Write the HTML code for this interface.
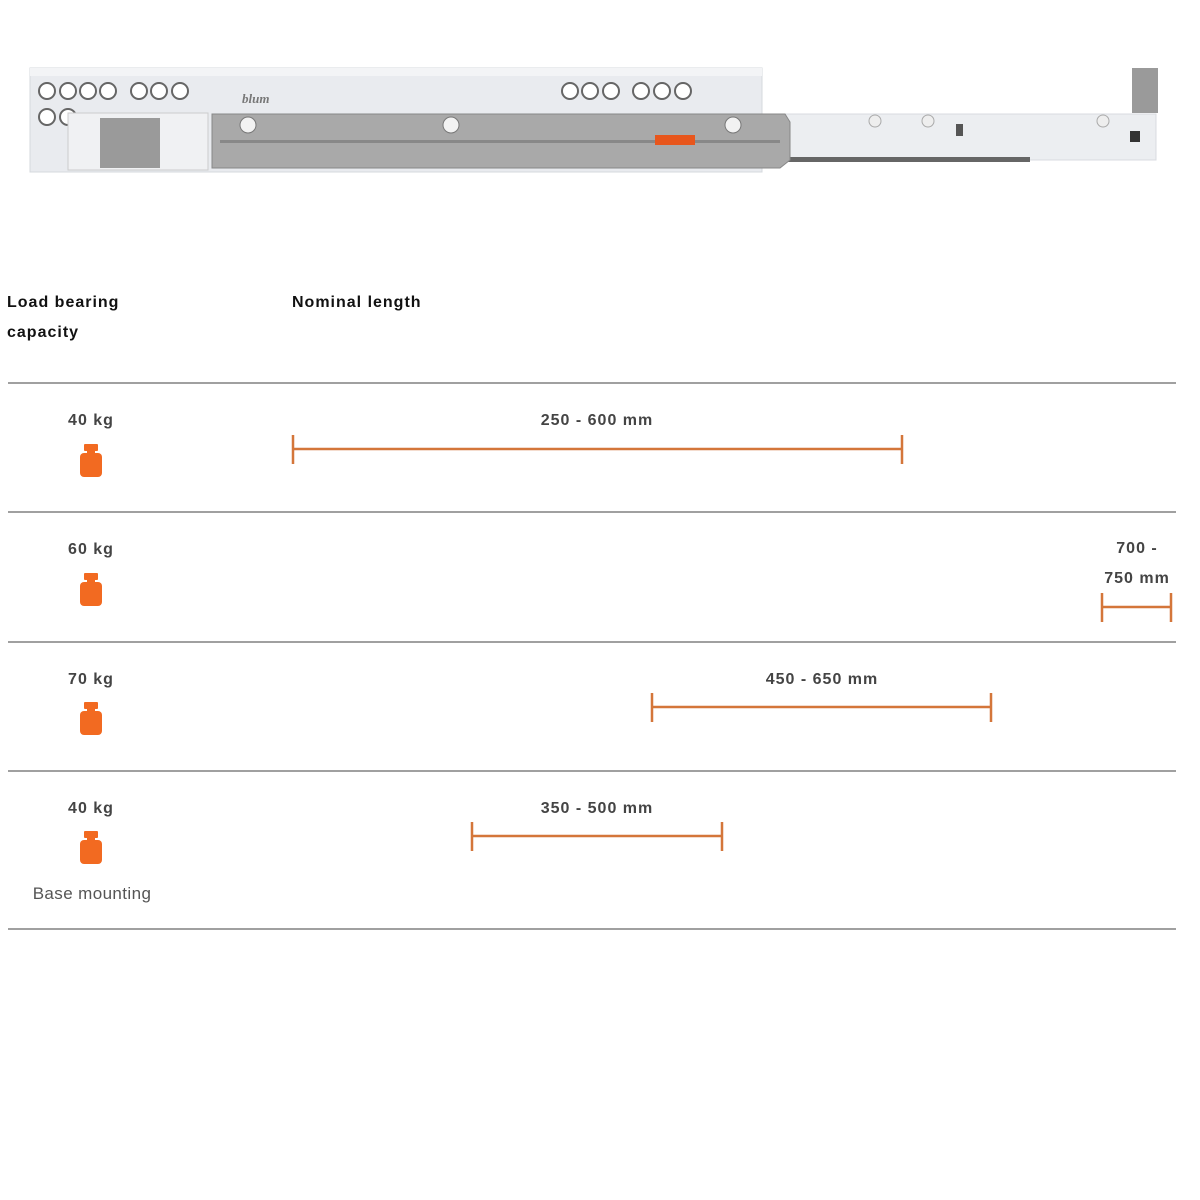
<!DOCTYPE html>
<html><head><meta charset="utf-8"><style>
body{margin:0;background:#fff;width:1200px;height:1200px;position:relative;overflow:hidden;font-family:"Liberation Sans",Arial,sans-serif}
.t{position:absolute;font-weight:bold;font-size:16px;color:#444;white-space:nowrap;letter-spacing:1px}
.h{color:#111;font-size:16px;line-height:30px}
.c{transform:translateX(-50%);text-align:center}
.hr{position:absolute;left:8px;width:1168px;height:2px;background:#a0a0a0}
</style></head><body>
<svg width="1200" height="1200" style="position:absolute;left:0;top:0">
<rect x="30" y="68" width="732" height="104" fill="#e9ebef" stroke="#d5d8dd"/>
<rect x="30" y="68" width="732" height="8" fill="#f3f4f6"/>
<rect x="762" y="114" width="394" height="46" fill="#eceef1" stroke="#d8dbe0"/>
<rect x="760" y="157" width="270" height="5" fill="#666"/>
<g fill="#fff" stroke="#666" stroke-width="2">
<circle cx="47" cy="91" r="8"/><circle cx="68" cy="91" r="8"/><circle cx="88" cy="91" r="8"/><circle cx="108" cy="91" r="8"/>
<circle cx="139" cy="91" r="8"/><circle cx="159" cy="91" r="8"/><circle cx="180" cy="91" r="8"/>
<circle cx="570" cy="91" r="8"/><circle cx="590" cy="91" r="8"/><circle cx="611" cy="91" r="8"/>
<circle cx="641" cy="91" r="8"/><circle cx="662" cy="91" r="8"/><circle cx="683" cy="91" r="8"/>
<circle cx="47" cy="117" r="8"/><circle cx="68" cy="117" r="8"/>
</g>
<rect x="68" y="113" width="140" height="57" fill="#f0f1f3" stroke="#ccc"/>
<rect x="100" y="118" width="60" height="50" fill="#9a9a9a"/>
<path d="M212 114 H785 L790 122 V160 L780 168 H212 Z" fill="#a9a9a9" stroke="#888"/>
<rect x="220" y="140" width="560" height="3" fill="#888"/>
<rect x="655" y="135" width="40" height="10" fill="#e8561c"/>
<circle cx="248" cy="125" r="8" fill="#f2f2f2" stroke="#777"/>
<circle cx="451" cy="125" r="8" fill="#f2f2f2" stroke="#777"/>
<circle cx="733" cy="125" r="8" fill="#f2f2f2" stroke="#777"/>
<g fill="#eee" stroke="#aaa"><circle cx="875" cy="121" r="6"/><circle cx="928" cy="121" r="6"/><circle cx="1103" cy="121" r="6"/></g>
<rect x="956" y="124" width="7" height="12" fill="#555"/>
<rect x="1130" y="131" width="10" height="11" fill="#333"/>
<rect x="1132" y="68" width="26" height="45" fill="#9a9a9a"/>
<text x="242" y="103" font-family="Liberation Serif" font-style="italic" font-weight="bold" font-size="13" fill="#777">blum</text>
<g fill="#f26a21">
<g transform="translate(91,444)"><rect x="-7" y="0" width="14" height="7" rx="1"/><rect x="-4" y="6" width="8" height="4"/><rect x="-11" y="9" width="22" height="24" rx="4"/></g>
<g transform="translate(91,573)"><rect x="-7" y="0" width="14" height="7" rx="1"/><rect x="-4" y="6" width="8" height="4"/><rect x="-11" y="9" width="22" height="24" rx="4"/></g>
<g transform="translate(91,702)"><rect x="-7" y="0" width="14" height="7" rx="1"/><rect x="-4" y="6" width="8" height="4"/><rect x="-11" y="9" width="22" height="24" rx="4"/></g>
<g transform="translate(91,831)"><rect x="-7" y="0" width="14" height="7" rx="1"/><rect x="-4" y="6" width="8" height="4"/><rect x="-11" y="9" width="22" height="24" rx="4"/></g>
</g>
<g stroke="#d4763a" stroke-width="2.5" fill="none">
<path d="M293 435V464M293 449H902M902 435V464"/>
<path d="M1102 593V622M1102 607H1171M1171 593V622"/>
<path d="M652 693V722M652 707H991M991 693V722"/>
<path d="M472 822V851M472 836H722M722 822V851"/>
</g>
</svg>
<div class="t h" style="left:7px;top:288px">Load bearing<br>capacity</div>
<div class="t h" style="left:292px;top:288px">Nominal length</div>
<div class="hr" style="top:382px"></div>
<div class="hr" style="top:511px"></div>
<div class="hr" style="top:641px"></div>
<div class="hr" style="top:770px"></div>
<div class="hr" style="top:928px"></div>
<div class="t c" style="left:91px;top:412px">40 kg</div>
<div class="t c" style="left:91px;top:541px">60 kg</div>
<div class="t c" style="left:91px;top:671px">70 kg</div>
<div class="t c" style="left:91px;top:800px">40 kg</div>
<div class="t c" style="left:92px;top:884px;font-weight:normal;color:#555;font-size:17px;letter-spacing:0.4px">Base mounting</div>
<div class="t c" style="left:597px;top:412px">250 - 600 mm</div>
<div class="t c" style="left:1137px;top:534px;line-height:30px">700 -<br>750 mm</div>
<div class="t c" style="left:822px;top:671px">450 - 650 mm</div>
<div class="t c" style="left:597px;top:800px">350 - 500 mm</div>
</body></html>
